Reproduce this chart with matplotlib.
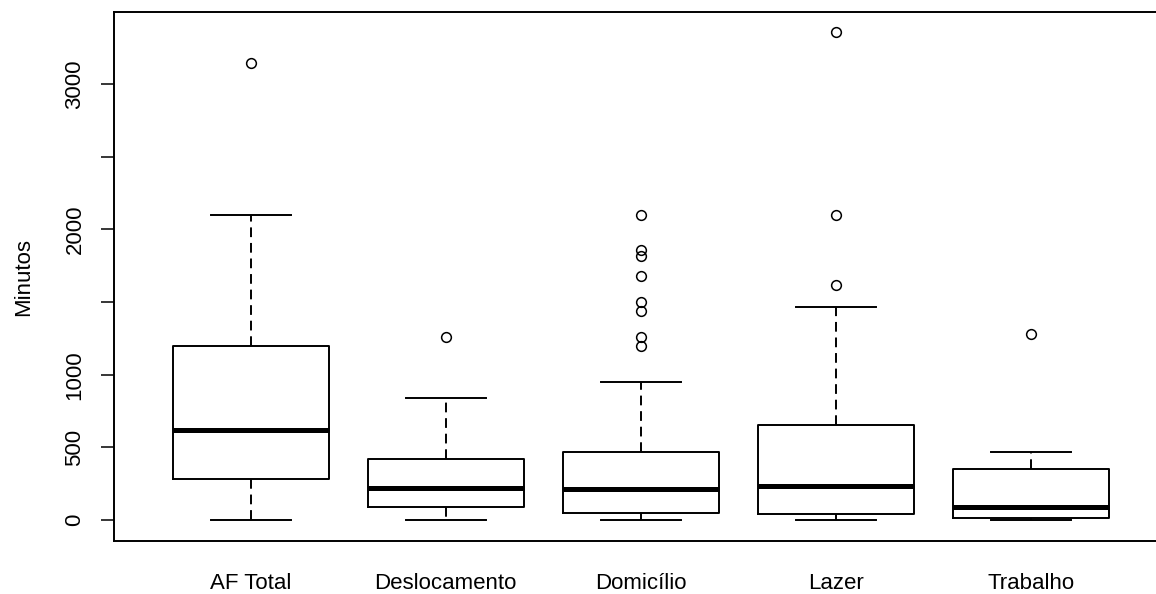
import matplotlib
matplotlib.use("Agg")
import matplotlib.pyplot as plt

# boxplot summary (minutes)
categories = ["AF Total", "Deslocamento", "Domicílio", "Lazer", "Trabalho"]
whisker_low = [0, 0, 0, 0, 0]
q1 = [284, 89, 48, 39, 14]
median = [621, 222, 213, 232, 87]
q3 = [1199, 420, 466, 654, 353]
whisker_high = [2099, 837, 950, 1463, 466]
outliers = [
    [3145],
    [1257],
    [2099, 1858, 1819, 1679, 1502, 1440, 1261, 1199],
    [3360, 2099, 1617],
    [1278],
]

y_ticks = [0, 500, 1000, 1500, 2000, 2500, 3000]
y_tick_labels = ["0", "500", "1000", "", "2000", "", "3000"]

plt.rcParams['font.family'] = ['Liberation Sans', 'DejaVu Sans']

stats = []
for i, name in enumerate(categories):
    stats.append({
        "label": name,
        "whislo": whisker_low[i],
        "q1": q1[i],
        "med": median[i],
        "q3": q3[i],
        "whishi": whisker_high[i],
        "fliers": outliers[i],
    })

fig = plt.figure(figsize=(11.56, 5.94), dpi=100)
ax = fig.add_axes([0.0986, 0.0892, 0.9113, 0.8906])

ax.bxp(
    stats,
    positions=range(1, len(categories) + 1),
    widths=0.8,
    showfliers=True,
    boxprops=dict(color="black", linewidth=1.4),
    medianprops=dict(color="black", linewidth=3.6, solid_capstyle="butt"),
    whiskerprops=dict(color="black", linewidth=1.4, linestyle=(0, (5, 3))),
    capprops=dict(color="black", linewidth=1.4),
    capwidths=0.41,
    flierprops=dict(marker="o", markersize=7, markerfacecolor="none",
                    markeredgecolor="black", markeredgewidth=1.1),
)

ax.set_xlim(0.3, 5.7)
ax.set_ylim(-144, 3495)

ax.set_yticks(y_ticks)
ax.set_yticklabels(y_tick_labels, rotation=90, va="center", fontsize=16)
ax.tick_params(axis="y", length=9.5, width=1.1, pad=11, colors="black")
ax.tick_params(axis="x", length=0, pad=23, labelsize=16)
ax.set_ylabel("Minutos", fontsize=16, labelpad=22)

for side in ["left", "bottom", "top", "right"]:
    ax.spines[side].set_linewidth(1.4)
    ax.spines[side].set_color("black")

fig.savefig("out.png", dpi=100)
